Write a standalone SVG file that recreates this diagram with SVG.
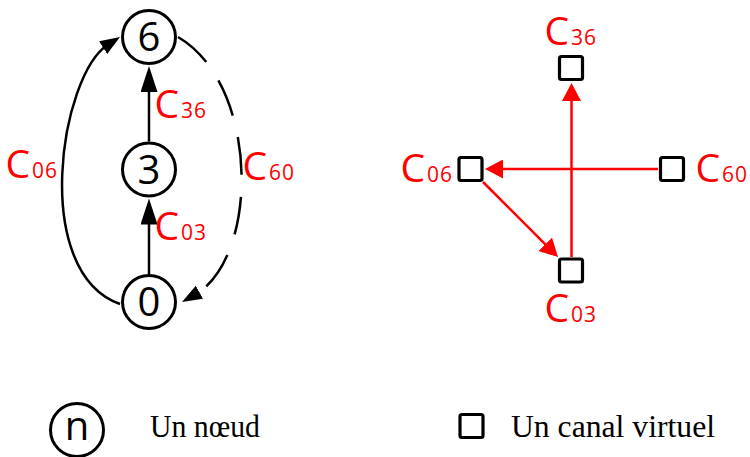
<svg xmlns="http://www.w3.org/2000/svg" width="750" height="457" viewBox="0 0 750 457">
<style>
.node circle{fill:#fff;stroke:#000;stroke-width:3}
.node text,.lg{font-family:"Open Sans","DejaVu Sans",sans-serif;font-size:40px;fill:#000;text-anchor:middle}
.vc rect{fill:#fff;stroke:#000;stroke-width:3.2}
.lbl{font-family:"Open Sans","DejaVu Sans",sans-serif;font-size:39px;fill:#f00}
.lbl tspan{font-size:21px;letter-spacing:1px}
.blk{fill:none;stroke:#000;stroke-width:2.5}
.red{fill:none;stroke:#f00;stroke-width:2.5}
.serif{font-family:"Liberation Serif","Times New Roman",serif;font-size:31px;fill:#000}
</style>
<defs>
<marker id="ab" viewBox="0 0 26 17" refX="6" refY="8.5" markerWidth="26" markerHeight="17" markerUnits="userSpaceOnUse" orient="auto"><path d="M0,0 L26,8.5 L0,17 z" fill="#000"/></marker>
<marker id="ac" viewBox="0 0 20 15" refX="6" refY="7.5" markerWidth="20" markerHeight="15" markerUnits="userSpaceOnUse" orient="auto"><path d="M0,0 L20,7.5 L0,15 z" fill="#000"/></marker>
<marker id="ar" viewBox="0 0 18 19" refX="4" refY="9.5" markerWidth="18" markerHeight="19" markerUnits="userSpaceOnUse" orient="auto"><path d="M0,0 L18,9.5 L0,19 z" fill="#f00"/></marker>
</defs>
<g id="connectors">
<path class="blk" d="M149,274 L149,218.5" marker-end="url(#ab)"/>
<path class="blk" d="M149,141.5 L149,86" marker-end="url(#ab)"/>
<path class="blk" d="M120,304 C30,272 60,75 108.2,44.5" marker-end="url(#ac)"/>
<path class="blk" d="M178,37 C260,85 259.8,258.8 194.2,295.2" stroke-dasharray="38 22" marker-end="url(#ac)"/>
<path class="red" d="M571.5,257 L571.5,97" marker-end="url(#ar)"/>
<path class="red" d="M658,169 L499,169" marker-end="url(#ar)"/>
<path class="red" d="M483,182 L548.1,247.1" marker-end="url(#ar)"/>
</g>
<g id="node6" class="node"><circle cx="149" cy="37" r="26.5"/><text x="149" y="51">6</text></g>
<g id="node3" class="node"><circle cx="149" cy="169.5" r="26.5"/><text x="149" y="183.5">3</text></g>
<g id="node0" class="node"><circle cx="149" cy="302" r="26.5"/><text x="149" y="316">0</text></g>
<g id="labels-left">
<text class="lbl" x="5.5" y="178">C<tspan x="32">06</tspan></text>
<text class="lbl" x="154.5" y="118">C<tspan x="181">36</tspan></text>
<text class="lbl" x="154.5" y="240">C<tspan x="181">03</tspan></text>
<text class="lbl" x="242.5" y="180">C<tspan x="269">60</tspan></text>
</g>
<g id="vc36" class="vc"><rect x="559.5" y="56.5" width="23" height="23" rx="2"/><text class="lbl" x="544.5" y="45">C<tspan x="571">36</tspan></text></g>
<g id="vc06" class="vc"><rect x="459" y="157.5" width="23" height="23" rx="2"/><text class="lbl" x="400.5" y="182">C<tspan x="427">06</tspan></text></g>
<g id="vc60" class="vc"><rect x="660.5" y="157.5" width="23" height="23" rx="2"/><text class="lbl" x="695.5" y="182">C<tspan x="722">60</tspan></text></g>
<g id="vc03" class="vc"><rect x="559.5" y="259" width="23" height="23" rx="2"/><text class="lbl" x="544.5" y="322">C<tspan x="571">03</tspan></text></g>
<g id="legend">
<g id="legend-node" class="node"><circle cx="77" cy="430" r="26.5"/><text x="77" y="440">n</text></g>
<text class="serif" x="150" y="437" textLength="110" lengthAdjust="spacingAndGlyphs">Un nœud</text>
<g id="legend-vc" class="vc"><rect x="460" y="414.5" width="23" height="23" rx="2"/></g>
<text class="serif" x="511" y="437" textLength="204" lengthAdjust="spacingAndGlyphs">Un canal virtuel</text>
</g>
</svg>
